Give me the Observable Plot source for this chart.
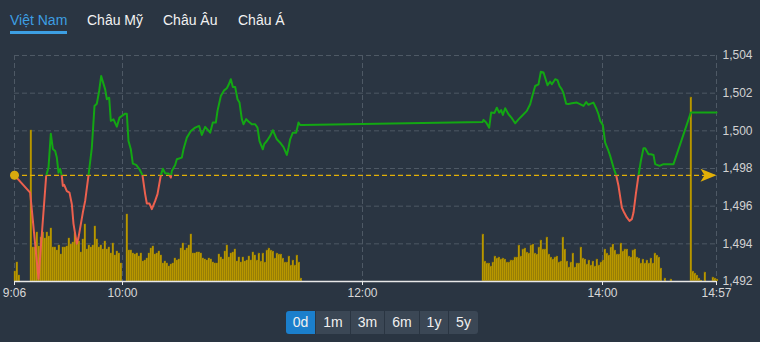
<!DOCTYPE html>
<html><head><meta charset="utf-8">
<script src="https://cdn.jsdelivr.net/npm/d3@7"></script>
<script src="https://cdn.jsdelivr.net/npm/@observablehq/plot@0.6"></script>
<style>
body{margin:0;background:#2a3542;font-family:"Liberation Sans",Arial,sans-serif;}
#wrap{position:relative;width:760px;height:342px;overflow:hidden;background:#2a3542;}
.tab{position:absolute;top:12px;font-size:14px;line-height:16px;color:#f2f2f2;white-space:nowrap;}
.tab.active{color:#3d9fe3;}
#underline{position:absolute;left:10px;top:31px;width:57px;height:3px;background:#3d9fe3;}
.layer{position:absolute;left:0;top:40px;}
#btns{position:absolute;left:286px;top:311px;height:23px;display:flex;border-radius:3px;overflow:hidden;}
.btn{height:23px;line-height:23px;text-align:center;font-size:14px;color:#f0f0f0;background:#3b4755;border-left:1px solid #2a3542;box-sizing:border-box;}
.btn:first-child{border-left:none;}
.btn.sel{background:#1b7fcc;}
</style></head>
<body>
<div id="wrap">
  <div id="tabs"></div>
  <div id="underline"></div>
  <div id="chart"></div>
  <div id="btns"></div>
</div>
<script>
// ---- data ----
const tabLabels = ["Việt Nam", "Châu Mỹ", "Châu Âu", "Châu Á"];
const rangeLabels = ["0d", "1m", "3m", "6m", "1y", "5y"];
const xTickLabels = ["9:06", "10:00", "12:00", "14:00", "14:57"];
const yTicks = [1492, 1494, 1496, 1498, 1500, 1502, 1504];
const referenceValue = 1497.64;

const priceTimes = [
"9:06:00","9:13:50","9:18:00","9:21:50","9:23:00","9:24:10","9:25:10","9:26:20","9:27:10","9:28:00",
"9:28:50","9:29:40","9:30:10","9:30:50","9:32:10","9:33:30","9:34:40","9:35:30","9:37:10","9:38:00",
"9:40:10","9:41:20","9:43:00","9:44:40","9:46:00","9:47:10","9:48:20","9:49:20","9:51:20","9:52:10",
"9:53:20","9:54:10","9:55:30","9:57:10","9:58:30","10:01:20","10:02:10","10:03:00","10:04:10","10:05:10",
"10:06:50","10:08:30","10:10:00","10:11:20","10:12:10","10:13:30","10:14:40","10:16:20","10:17:30","10:19:10",
"10:20:10","10:21:20","10:23:00","10:24:10","10:24:40","10:26:20","10:27:10","10:29:40","10:30:30","10:32:10",
"10:34:10","10:36:20","10:38:20","10:39:40","10:41:20","10:43:50","10:45:10","10:46:40","10:47:30","10:49:10",
"10:50:50","10:52:10","10:53:00","10:54:10","10:55:10","10:56:20","10:57:30","10:58:30","10:59:40","11:00:30",
"11:01:50","11:03:00","11:04:40","11:06:20","11:07:30","11:08:30","11:10:10","11:10:50","11:12:10","11:13:50",
"11:15:10","11:17:10","11:18:50","11:20:30","11:22:10","11:23:00","11:23:50","11:25:10","11:26:50","11:28:00",
"11:28:50","11:30:00",
"13:00:00","13:00:30","13:01:50","13:03:20","13:04:20","13:06:00","13:07:10","13:08:20","13:09:20","13:10:10",
"13:11:20","13:13:00","13:14:40","13:16:20","13:18:00","13:19:40","13:22:10","13:23:50","13:25:10","13:26:20",
"13:28:00","13:29:10","13:30:30","13:31:20","13:32:30","13:33:50","13:34:40","13:36:20","13:37:30","13:38:30",
"13:39:40","13:40:30","13:41:50","13:43:00","13:44:40","13:47:10","13:48:30","13:50:30","13:51:50","13:53:00",
"13:53:50","13:55:30","13:56:50","13:58:00","13:58:50","14:00:10","14:01:20","14:03:00","14:03:50","14:05:30",
"14:06:50","14:08:00","14:09:40","14:10:50","14:12:10","14:13:30","14:14:40","14:15:30","14:16:40","14:18:00",
"14:19:10","14:20:30","14:21:20","14:23:00","14:24:10","14:25:30","14:26:20","14:28:30","14:30:30","14:35:30",
"14:44:10","14:57:00"];
const priceValues = [
1497.64,1496.72,1492.14,1497.60,1498.05,1499.85,1499.04,1498.93,1498.58,1497.78,
1497.98,1497.60,1497.08,1497.13,1496.80,1496.72,1496.10,1495.06,1494.00,1494.33,
1495.66,1496.28,1497.64,1499.10,1501.32,1501.44,1502.12,1502.91,1502.20,1501.68,
1501.76,1500.53,1500.61,1500.22,1500.70,1500.91,1500.91,1499.46,1499.02,1498.26,
1498.19,1497.96,1497.64,1496.64,1496.14,1496.14,1495.84,1496.28,1496.64,1497.64,
1497.99,1497.75,1497.73,1497.52,1497.87,1498.19,1498.49,1498.58,1499.02,1499.64,
1499.99,1500.17,1500.26,1499.78,1500.21,1499.90,1500.44,1500.44,1501.06,1501.85,
1502.15,1502.26,1502.43,1502.74,1502.33,1502.33,1501.68,1501.50,1500.62,1500.35,
1500.62,1500.50,1500.35,1500.35,1500.17,1499.46,1499.02,1499.29,1499.46,1499.73,
1500.03,1499.55,1499.37,1499.14,1498.72,1499.10,1499.55,1499.90,1499.90,1500.44,
1500.31,1500.31,
1500.47,1500.58,1500.44,1500.17,1500.97,1500.95,1501.23,1500.97,1501.10,1500.84,
1501.20,1500.88,1500.67,1500.40,1500.61,1500.79,1501.06,1501.41,1501.94,1502.38,
1502.47,1503.14,1503.10,1502.82,1502.42,1502.61,1502.47,1502.74,1502.69,1502.38,
1502.20,1502.00,1501.44,1501.43,1501.46,1501.50,1501.43,1501.32,1501.53,1501.38,
1501.43,1501.50,1501.20,1500.88,1500.53,1500.31,1499.37,1498.93,1498.67,1498.05,
1497.64,1497.08,1495.93,1495.66,1495.40,1495.22,1495.31,1495.66,1496.64,1497.64,
1498.40,1499.08,1499.08,1498.76,1498.76,1498.72,1498.23,1498.14,1498.23,1498.23,
1500.97,1500.97];

// volume per minute (estimated, millions), morning session from 9:06, afternoon from 13:00
const morningStart = "9:06";
const morningVolume = [
1.0,1.9,0.6,0,0,0,0,0,15.1,3.4,3.4,4.9,3.5,4.4,4.9,4.3,4.9,4.5,5.3,3.4,
3.4,3.1,3.6,2.7,3.4,3.4,3.5,4.3,3.7,3.9,4.8,4.2,4.0,2.9,4.2,5.7,3.2,3.6,3.4,3.6,
5.5,4.2,3.4,3.6,3.2,4.0,3.2,3.4,2.8,3.8,2.6,3.0,2.8,1.8,0,0,6.7,3.1,3.1,2.8,
2.7,2.8,2.5,2.8,2.0,2.1,2.3,2.8,3.3,3.5,2.7,2.8,3.0,2.6,1.8,2.0,1.8,1.5,1.7,1.8,
2.3,2.1,2.2,3.3,3.8,3.1,3.3,3.6,4.7,2.8,2.8,2.9,2.9,2.8,2.3,2.2,2.1,2.3,2.2,1.9,
1.8,1.8,2.7,2.4,2.2,3.0,3.6,2.4,2.8,2.9,3.2,2.0,2.4,1.9,2.4,2.0,2.1,2.5,2.1,2.9,
2.6,2.1,2.8,2.0,2.8,1.9,3.1,3.3,3.1,3.0,2.3,2.8,2.7,2.7,2.3,1.9,1.9,2.5,1.6,2.1,
1.6,2.6,1.9,0.3];
const afternoonStart = "13:00";
const afternoonVolume = [
4.7,2.0,1.8,1.8,1.5,1.9,2.5,2.3,2.4,2.2,2.3,2.2,1.9,1.9,2.1,2.1,2.4,2.4,3.6,2.5,
3.2,3.3,2.9,2.8,3.6,3.7,2.8,2.7,3.4,4.1,3.2,3.2,4.4,2.7,2.4,2.2,2.4,2.5,1.9,2.0,
4.4,3.2,2.0,1.4,1.9,2.8,1.4,1.8,1.8,3.4,2.3,2.2,1.7,2.1,1.6,2.0,1.5,2.2,1.6,1.9,
2.1,3.2,2.8,2.6,3.4,3.7,3.1,2.7,2.7,3.8,3.0,3.2,3.2,2.5,2.4,3.1,3.2,2.4,2.3,1.8,
2.2,1.8,2.1,1.8,2.3,1.8,2.8,2.6,2.4,1.3,0,0.3,0,0,0.2,0,0,0,0,0,
0,0,0,0,18.4,1.0,0.8,0.6,0.3,0.1,0,0.9,0,0,0,0.4,0.3,0.2];

// ---- helpers ----
const parseT = s => { const [h, m, sec = 0] = s.split(":").map(Number); return new Date(2024, 0, 2, h, m, sec); };
const price = priceTimes.map((t, i) => ({t: parseT(t), v: priceValues[i]}));
const volume = [
  ...morningVolume.map((v, i) => ({t: d3.timeMinute.offset(parseT(morningStart), i), v})),
  ...afternoonVolume.map((v, i) => ({t: d3.timeMinute.offset(parseT(afternoonStart), i), v}))
].map(d => ({...d, t2: d3.timeMinute.offset(d.t, 1)}));
const xTickDates = xTickLabels.map(parseT);
const xDomain = [xTickDates[0], xTickDates[xTickDates.length - 1]];
const yDomain = [yTicks[0], yTicks[yTicks.length - 1]];

// ---- page furniture ----
const tabLeft = [10, 87, 163, 238];
tabLabels.forEach((t, i) => {
  const d = document.createElement("div");
  d.className = "tab" + (i === 0 ? " active" : "");
  d.style.left = tabLeft[i] + "px";
  d.textContent = t;
  document.getElementById("tabs").appendChild(d);
});
const btnW = [29, 35, 34, 35, 29, 30];
rangeLabels.forEach((t, i) => {
  const d = document.createElement("div");
  d.className = "btn" + (i === 0 ? " sel" : "");
  d.style.width = btnW[i] + "px";
  d.textContent = t;
  document.getElementById("btns").appendChild(d);
});

// ---- charts ----
const W = 760, H = 265;
const common = {width: W, height: H, marginTop: 15, marginBottom: 24, marginLeft: 14, marginRight: 44};
const style = {background: "transparent", color: "#d4d4d4", fontFamily: "Liberation Sans, Arial, sans-serif", fontSize: "12px", overflow: "visible"};
const layer = el => { el.classList.add("layer"); document.getElementById("chart").appendChild(el); return el; };

// layer 1: grid + y labels
layer(Plot.plot({
  ...common, style,
  x: {type: "time", domain: xDomain, axis: null},
  y: {domain: yDomain, axis: null},
  marks: [
    Plot.ruleY(yTicks.slice(1), {stroke: "#4e5965", strokeDasharray: "5,3", strokeWidth: 1}),
    Plot.ruleX(xTickDates, {stroke: "#4e5965", strokeDasharray: "5,3", strokeWidth: 1}),
    Plot.axisY({anchor: "right", ticks: yTicks, tickSize: 0, tickPadding: 6, tickFormat: d3.format(","), label: null, fill: "#d2d2d2"})
  ]
}));

// layer 2: volume bars
layer(Plot.plot({
  ...common, style,
  x: {type: "time", domain: xDomain, axis: null},
  y: {domain: [0, 22.6], axis: null},
  marks: [
    Plot.rectY(volume, {x1: "t", x2: "t2", y: "v", fill: "#c29f00", stroke: "#8f7700", strokeWidth: 0.4, insetRight: 0.2})
  ]
}));

// layer 3: price line, reference, axis
const arrowSymbol = {draw(ctx) { ctx.moveTo(8, 0); ctx.lineTo(-8, -6.5); ctx.lineTo(-4, 0); ctx.lineTo(-8, 6.5); ctx.closePath(); }};
const chart = layer(Plot.plot({
  ...common, style,
  x: {type: "time", domain: xDomain, axis: null},
  y: {domain: yDomain, axis: null},
  marks: [
    Plot.ruleY([referenceValue], {stroke: "#e2b007", strokeDasharray: "5,3", strokeWidth: 1.3}),
    Plot.line(price, {x: "t", y: "v", stroke: "#13a713", strokeWidth: 2}),
    Plot.line(price, {x: "t", y: "v", stroke: "#ec604e", strokeWidth: 2}),
    Plot.ruleY([yTicks[0]], {stroke: "#e8e8e8", strokeWidth: 1.5}),
    Plot.axisX({ticks: xTickDates, tickFormat: (d, i) => xTickLabels[i], tickSize: 4, tickPadding: 3, stroke: "#e8e8e8", fill: "#d8d8d8", label: null}),
    Plot.dot([referenceValue], {x: () => xDomain[0], y: d => d, r: 4.5, fill: "#d8a90e", stroke: null}),
    Plot.dot([referenceValue], {x: () => xDomain[1], y: d => d, symbol: arrowSymbol, fill: "#e2b007", stroke: null, dx: -8})
  ]
}));
const yPx = chart.scale("y").apply(referenceValue);
const svg = d3.select(chart);
const defs = svg.append("defs");
defs.append("clipPath").attr("id", "clip-up").append("rect").attr("x", -10).attr("y", -10).attr("width", W + 20).attr("height", yPx + 10);
defs.append("clipPath").attr("id", "clip-down").append("rect").attr("x", -10).attr("y", yPx).attr("width", W + 20).attr("height", H - yPx + 10);
const lineGroups = svg.selectAll('g[aria-label="line"]').nodes();
if (lineGroups[0]) lineGroups[0].setAttribute("clip-path", "url(#clip-up)");
if (lineGroups[1]) lineGroups[1].setAttribute("clip-path", "url(#clip-down)");
</script>
</body></html>
